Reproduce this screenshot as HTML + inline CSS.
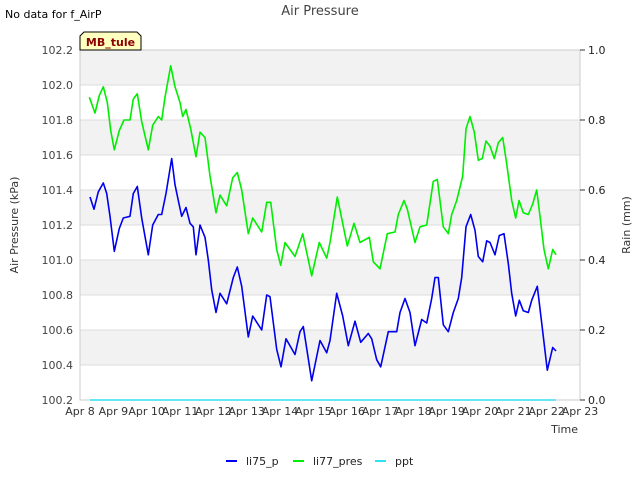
<!DOCTYPE html>
<html><head><meta charset="utf-8"><style>
body{margin:0;background:#fff;font-family:"Liberation Sans","DejaVu Sans",sans-serif;}
svg text{font-family:"DejaVu Sans","Liberation Sans",sans-serif;}
</style></head><body>
<svg id="chart" width="640" height="480" viewBox="0 0 640 480">
<rect x="0" y="0" width="640" height="480" fill="#fff"/>
<g id="bands"></g>
<g id="grid"></g>
<rect x="80" y="50" width="500" height="350" fill="none" stroke="#ccc" stroke-width="1"/>
<g id="series"></g>
<g id="yticks"></g>
<g id="y2ticks"></g>
<g id="xticks"></g>
<text x="320" y="15" text-anchor="middle" font-size="13" fill="#444">Air Pressure</text>
<text x="5" y="18" font-size="11" fill="#000">No data for f_AirP</text>
<g>
<path d="M80,50 L80,36 L84,32 L137,32 L141,36 L141,50 Z" fill="#ffffc0" stroke="#000" stroke-width="1"/>
<text x="110.5" y="46" text-anchor="middle" font-size="11" font-weight="bold" fill="#8b0000">MB_tule</text>
</g>
<text x="18" y="225" text-anchor="middle" font-size="11" fill="#333" transform="rotate(-90 18 225)">Air Pressure (kPa)</text>
<text x="630" y="225" text-anchor="middle" font-size="11" fill="#333" transform="rotate(-90 630 225)">Rain (mm)</text>
<text x="578" y="433" text-anchor="end" font-size="11" fill="#333">Time</text>
<g id="legend"></g>
</svg>
<script>
const dayLabels=["Apr 8","Apr 9","Apr 10","Apr 11","Apr 12","Apr 13","Apr 14","Apr 15","Apr 16","Apr 17","Apr 18","Apr 19","Apr 20","Apr 21","Apr 22","Apr 23"];
const yTicks=[100.2,100.4,100.6,100.8,101.0,101.2,101.4,101.6,101.8,102.0,102.2];
const y2Ticks=[0.0,0.2,0.4,0.6,0.8,1.0];
const li75Times=[0.30,0.42,0.55,0.70,0.80,0.90,1.03,1.18,1.30,1.50,1.60,1.72,1.85,2.05,2.18,2.35,2.45,2.58,2.75,2.85,2.95,3.05,3.18,3.30,3.40,3.48,3.60,3.75,3.85,3.95,4.08,4.20,4.40,4.60,4.72,4.85,5.05,5.18,5.45,5.60,5.70,5.90,6.03,6.18,6.45,6.60,6.70,6.95,7.20,7.40,7.50,7.70,7.88,8.05,8.25,8.42,8.65,8.75,8.90,9.02,9.25,9.50,9.60,9.75,9.90,10.05,10.25,10.40,10.55,10.65,10.75,10.90,11.05,11.20,11.35,11.45,11.58,11.72,11.85,11.95,12.08,12.20,12.30,12.45,12.58,12.72,12.85,12.95,13.07,13.18,13.30,13.45,13.55,13.72,13.85,14.02,14.18,14.28];
const li75Values=[101.36,101.29,101.39,101.44,101.38,101.25,101.05,101.18,101.24,101.25,101.38,101.42,101.24,101.03,101.20,101.26,101.26,101.38,101.58,101.43,101.34,101.25,101.30,101.21,101.19,101.03,101.20,101.13,101.00,100.83,100.70,100.81,100.75,100.90,100.96,100.85,100.56,100.68,100.60,100.80,100.79,100.49,100.39,100.55,100.46,100.59,100.62,100.31,100.54,100.47,100.54,100.81,100.68,100.51,100.65,100.53,100.58,100.55,100.43,100.39,100.59,100.59,100.70,100.78,100.70,100.51,100.66,100.64,100.78,100.90,100.90,100.63,100.59,100.70,100.78,100.90,101.19,101.26,101.17,101.02,100.99,101.11,101.10,101.03,101.14,101.15,100.98,100.81,100.68,100.77,100.71,100.70,100.77,100.85,100.64,100.37,100.50,100.48];
const li77Times=[0.28,0.45,0.58,0.70,0.82,0.92,1.03,1.18,1.32,1.50,1.60,1.72,1.85,2.05,2.18,2.35,2.45,2.55,2.72,2.85,3.00,3.08,3.18,3.32,3.48,3.60,3.75,3.90,4.08,4.20,4.40,4.58,4.72,4.85,5.05,5.18,5.45,5.60,5.72,5.90,6.02,6.15,6.45,6.68,6.95,7.18,7.40,7.50,7.72,7.88,8.02,8.22,8.40,8.68,8.80,9.00,9.22,9.45,9.55,9.72,9.82,10.05,10.20,10.40,10.60,10.72,10.90,11.05,11.15,11.30,11.48,11.58,11.70,11.83,11.95,12.07,12.18,12.30,12.43,12.55,12.68,12.80,12.95,13.07,13.17,13.30,13.45,13.58,13.70,13.80,13.92,14.05,14.18,14.28];
const li77Values=[101.93,101.84,101.94,101.99,101.90,101.74,101.63,101.74,101.80,101.80,101.92,101.95,101.79,101.63,101.77,101.82,101.80,101.93,102.11,101.99,101.90,101.82,101.86,101.75,101.59,101.73,101.70,101.48,101.27,101.37,101.31,101.47,101.50,101.40,101.15,101.24,101.16,101.33,101.33,101.06,100.97,101.10,101.02,101.15,100.91,101.10,101.01,101.10,101.36,101.21,101.08,101.21,101.10,101.13,100.99,100.95,101.15,101.16,101.26,101.34,101.29,101.10,101.19,101.20,101.45,101.46,101.19,101.15,101.26,101.34,101.48,101.75,101.82,101.73,101.57,101.58,101.68,101.65,101.58,101.67,101.70,101.55,101.34,101.24,101.34,101.27,101.26,101.32,101.40,101.25,101.06,100.95,101.06,101.03];
const pptTimes=[0.30,14.28];
const pptValues=[0,0];

const NS="http://www.w3.org/2000/svg";
const L=80,R=580,T=50,B=400;
const xS=d=>L+(R-L)*d/15;
const yS=v=>B-(v-100.2)/2.0*(B-T);
const y2S=v=>B-v*(B-T);
function mk(tag,attrs,parent){const e=document.createElementNS(NS,tag);for(const k in attrs)e.setAttribute(k,attrs[k]);parent.appendChild(e);return e;}
const bands=document.getElementById('bands'),grid=document.getElementById('grid');
for(let i=0;i<yTicks.length-1;i++){
  if(i%2===1){const r=mk('rect',{x:L,y:yS(yTicks[i+1]),width:R-L,height:yS(yTicks[i])-yS(yTicks[i+1]),fill:'#f2f2f2'},bands);
  
  }
}
const yt=document.getElementById('yticks');
yTicks.forEach(v=>{
  const l=mk('line',{x1:L,x2:R,y1:yS(v),y2:yS(v),stroke:'#dcdcdc','stroke-width':1},grid);
  
  
  const t=mk('text',{x:L-7,y:yS(v)+4,'text-anchor':'end','font-size':11,fill:'#444'},yt);
  
  
  t.textContent=v.toFixed(1);
});
const y2=document.getElementById('y2ticks');
y2Ticks.forEach(v=>{
  const l=mk('line',{x1:R,x2:R+5,y1:y2S(v),y2:y2S(v),stroke:'#333','stroke-width':1},y2);
  
  
  const t=mk('text',{x:R+8,y:y2S(v)+4,'font-size':11,fill:'#222'},y2);
  
  
  t.textContent=v.toFixed(1);
});
const xt=document.getElementById('xticks');
dayLabels.forEach((s,i)=>{
  const t=mk('text',{x:xS(i),y:415,'text-anchor':'middle','font-size':11,fill:'#333'},xt);
  
  
  t.textContent=s;
});
const sg=document.getElementById('series');
function line(ts,vs,sc,col,name){
  const p=mk('polyline',{points:ts.map((t,i)=>xS(t).toFixed(1)+','+sc(vs[i]).toFixed(1)).join(' '),fill:'none',stroke:col,'stroke-width':1.6,'stroke-linejoin':'round'},sg);
  
  
}
line(pptTimes,pptValues,y2S,'#33e0f0','ppt-line');
line(li75Times,li75Values,yS,'#0000ee','li75-p-line');
line(li77Times,li77Values,yS,'#00ee00','li77-pres-line');
const lg=document.getElementById('legend');
[['li75_p','#0000ee',226],['li77_pres','#00ee00',293],['ppt','#33e0f0',375]].forEach(([n,c,x])=>{
  const g=mk('g',{},lg);
  
  
  mk('line',{x1:x,x2:x+11,y1:461,y2:461,stroke:c,'stroke-width':2},g);
  const t=mk('text',{x:x+20,y:465,'font-size':11,fill:'#222'},g);
  t.textContent=n;
});
</script>
</body></html>
